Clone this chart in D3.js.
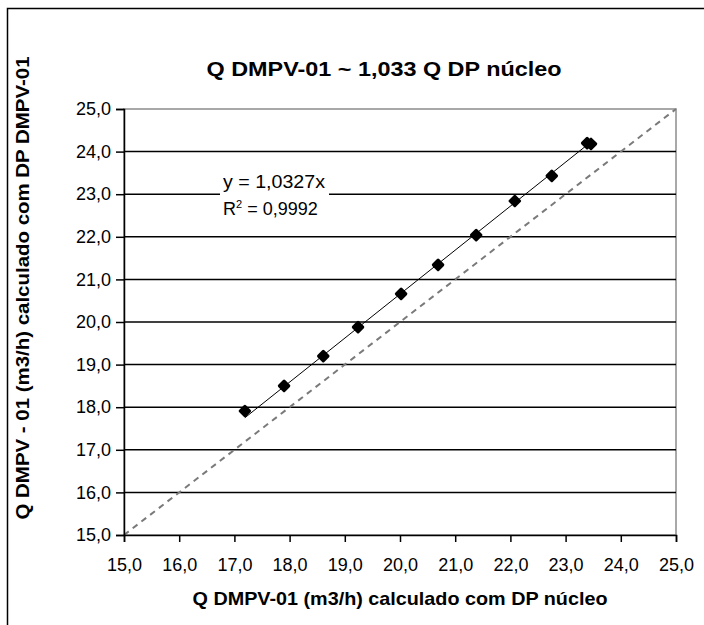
<!DOCTYPE html>
<html lang="pt">
  <head>
    <meta charset="utf-8" />
    <title>Q DMPV-01 ~ 1,033 Q DP núcleo</title>
    <script src="https://cdn.jsdelivr.net/npm/d3@7"></script>
    <style>
      body { margin: 0; background: #fff; }
      text { font-family: "Liberation Sans", Arial, sans-serif; fill: #000; }
    </style>
  </head>
  <body>
    <div id="root"></div>

    <script type="text/javascript">
      // data
      const qNucleo = [17.19, 17.9, 18.61, 19.24, 20.02, 20.69, 21.38, 22.08, 22.75, 23.39, 23.46];
      const qDmpv = [17.91, 18.5, 19.2, 19.88, 20.66, 21.34, 22.04, 22.84, 23.43, 24.2, 24.18];
      const slope = 1.0327;
      const axisTicks = [15, 16, 17, 18, 19, 20, 21, 22, 23, 24, 25];

      const points = qNucleo.map((x, i) => ({ x: x, y: qDmpv[i] }));

      // chart dimensions
      const width = 704;
      const height = 625;
      const plotLeft = 124;
      const plotRight = 676;
      const plotTop = 109;
      const plotBottom = 535;

      const xScale = d3.scaleLinear().domain([15, 25]).range([plotLeft, plotRight]);
      const yScale = d3.scaleLinear().domain([15, 25]).range([plotBottom, plotTop]);

      const fmt = (d) => d3.format(".1f")(d).replace(".", ",");

      const svg = d3
        .select("#root")
        .append("svg")
        .attr("width", width)
        .attr("height", height);

      // chart area frame (only left and top visible)
      svg
        .append("path")
        .attr("d", `M7.5,${height} V8.5 H${width}`)
        .attr("fill", "none")
        .attr("stroke", "#000")
        .attr("stroke-width", 1.5);

      // plot area
      svg
        .append("rect")
        .attr("x", plotLeft)
        .attr("y", plotTop)
        .attr("width", plotRight - plotLeft)
        .attr("height", plotBottom - plotTop)
        .attr("fill", "#fff")
        .attr("stroke", "#8c8c8c")
        .attr("stroke-width", 1.5);

      // gridlines
      svg
        .append("g")
        .selectAll("line")
        .data(axisTicks.slice(1, -1))
        .join("line")
        .attr("x1", plotLeft)
        .attr("x2", plotRight)
        .attr("y1", (d) => yScale(d))
        .attr("y2", (d) => yScale(d))
        .attr("stroke", "#000")
        .attr("stroke-width", 1.5);

      // y = x reference line
      svg
        .append("line")
        .attr("x1", xScale(15))
        .attr("y1", yScale(15))
        .attr("x2", xScale(25))
        .attr("y2", yScale(25))
        .attr("stroke", "#7a7a7a")
        .attr("stroke-width", 2)
        .attr("stroke-dasharray", "6,5");

      // trendline y = 1.0327x
      const xMin = d3.min(qNucleo);
      const xMax = d3.max(qNucleo);
      svg
        .append("line")
        .attr("x1", xScale(xMin))
        .attr("y1", yScale(slope * xMin))
        .attr("x2", xScale(xMax))
        .attr("y2", yScale(slope * xMax))
        .attr("stroke", "#000")
        .attr("stroke-width", 1);

      // markers (rounded diamonds)
      svg
        .append("g")
        .selectAll("path")
        .data(points)
        .join("path")
        .attr("d", d3.symbol(d3.symbolSquare, 45))
        .attr("transform", (d) => `translate(${xScale(d.x)},${yScale(d.y)}) rotate(45)`)
        .attr("fill", "#000")
        .attr("stroke", "#000")
        .attr("stroke-width", 3)
        .attr("stroke-linejoin", "round");

      // axes
      const yAxis = svg
        .append("g")
        .attr("transform", `translate(${plotLeft},0)`)
        .call(d3.axisLeft(yScale).tickValues(axisTicks).tickFormat(fmt).tickSize(8).tickPadding(5));

      const xAxis = svg
        .append("g")
        .attr("transform", `translate(0,${plotBottom})`)
        .call(d3.axisBottom(xScale).tickValues(axisTicks).tickFormat(fmt).tickSize(7).tickPadding(16));

      [yAxis, xAxis].forEach((g) => {
        g.select(".domain").attr("stroke", "#000").attr("stroke-width", 1.5);
        g.selectAll(".tick line").attr("stroke", "#000").attr("stroke-width", 1.5);
        g.selectAll("text")
          .attr("font-family", "'Liberation Sans', Arial, sans-serif")
          .attr("font-size", 18)
          .attr("fill", "#000");
      });

      // trendline label
      svg
        .append("rect")
        .attr("x", 220)
        .attr("y", 170)
        .attr("width", 109)
        .attr("height", 52)
        .attr("fill", "#fff");

      svg
        .append("text")
        .attr("x", 223)
        .attr("y", 188)
        .attr("font-size", 18)
        .attr("textLength", 102)
        .attr("lengthAdjust", "spacingAndGlyphs")
        .text("y = 1,0327x");

      const r2 = svg
        .append("text")
        .attr("x", 223)
        .attr("y", 215)
        .attr("font-size", 18);
      r2.append("tspan").text("R");
      r2.append("tspan").attr("font-size", 11).attr("dy", -7).text("2");
      r2.append("tspan").attr("dy", 7).text(" = 0,9992");

      // titles
      svg
        .append("text")
        .attr("x", 384)
        .attr("y", 76)
        .attr("text-anchor", "middle")
        .attr("font-size", 21)
        .attr("font-weight", "bold")
        .attr("textLength", 355)
        .attr("lengthAdjust", "spacingAndGlyphs")
        .text("Q DMPV-01 ~ 1,033 Q DP núcleo");

      svg
        .append("text")
        .attr("x", 400)
        .attr("y", 605)
        .attr("text-anchor", "middle")
        .attr("font-size", 19)
        .attr("font-weight", "bold")
        .attr("textLength", 415)
        .attr("lengthAdjust", "spacingAndGlyphs")
        .text("Q DMPV-01 (m3/h) calculado com DP núcleo");

      svg
        .append("text")
        .attr("transform", "translate(29,288) rotate(-90)")
        .attr("text-anchor", "middle")
        .attr("font-size", 19)
        .attr("font-weight", "bold")
        .attr("textLength", 463)
        .attr("lengthAdjust", "spacingAndGlyphs")
        .text("Q DMPV - 01 (m3/h) calculado com DP DMPV-01");
    </script>
  </body>
</html>
